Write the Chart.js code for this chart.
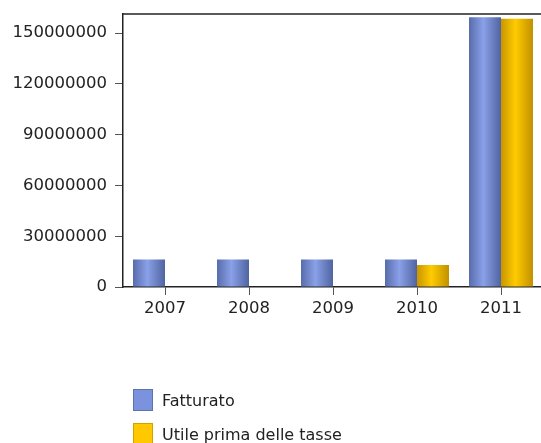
<!DOCTYPE html>
<html>
<head>
<meta charset="utf-8">
<script src="https://cdn.jsdelivr.net/npm/chart.js@4"></script>
<style>
  html, body { margin: 0; padding: 0; background: #fff; overflow: hidden; width: 541px; height: 443px; }
  #wrap { position: relative; width: 600px; height: 443px; }
  #legend { position: absolute; left: 133px; top: 389px; font-family: "DejaVu Sans"; font-size: 16px; color: #222; }
  .item { display: flex; align-items: center; height: 22px; margin-bottom: 12px; }
  .box { width: 18px; height: 20px; margin-right: 9px; box-sizing: content-box; }
</style>
</head>
<body>
<div id="wrap">
  <canvas id="chart" width="600" height="443"></canvas>
  <div id="legend"></div>
</div>
<script>
// dati
const anni = ['2007', '2008', '2009', '2010', '2011'];
const fatturato = [16300000, 16300000, 16300000, 16300000, 159400000];
const utile = [null, null, null, 13000000, 158500000];
const yTicks = [0, 30000000, 60000000, 90000000, 120000000, 150000000];
const yMax = 161300000;

const CAT_PCT = 0.762;
const FONT = { family: 'DejaVu Sans', size: 16.5 };

const palette = [
  { name: 'Fatturato', stops: ['#586cab', '#8aa0e8', '#5064a0'], box: '#7b93dd', edge: '#5d72b5' },
  { name: 'Utile prima delle tasse', stops: ['#c89600', '#ffcb00', '#c09000'], box: '#ffc800', edge: '#d4a000' }
];

function barFill(ctx) {
  const p = palette[ctx.datasetIndex];
  const chart = ctx.chart;
  if (!chart.chartArea || ctx.dataIndex === undefined) return p.box;
  const x = chart.scales.x;
  const w = (x.width / anni.length) * CAT_PCT / 2;
  const left = x.getPixelForValue(ctx.dataIndex) - w + ctx.datasetIndex * w;
  const g = chart.ctx.createLinearGradient(left, 0, left + w, 0);
  g.addColorStop(0, p.stops[0]);
  g.addColorStop(0.45, p.stops[1]);
  g.addColorStop(1, p.stops[2]);
  return g;
}

// bordo superiore del riquadro
const boxPlugin = {
  id: 'plotBox',
  afterDraw(chart) {
    const a = chart.chartArea;
    const c = chart.ctx;
    c.save();
    c.strokeStyle = '#222';
    c.lineWidth = 1.5;
    c.beginPath();
    c.moveTo(a.left, a.top);
    c.lineTo(chart.width, a.top);
    c.stroke();
    c.restore();
  }
};

new Chart(document.getElementById('chart'), {
  type: 'bar',
  data: {
    labels: anni,
    datasets: [
      { label: palette[0].name, data: fatturato, backgroundColor: barFill, borderWidth: 0 },
      { label: palette[1].name, data: utile, backgroundColor: barFill, borderWidth: 0 }
    ]
  },
  options: {
    responsive: false,
    animation: false,
    layout: { padding: { left: 0, top: 14, right: 57, bottom: 116 } },
    datasets: { bar: { categoryPercentage: CAT_PCT, barPercentage: 1 } },
    plugins: { legend: { display: false }, tooltip: { enabled: false } },
    scales: {
      x: {
        afterFit(s) { s.height = 40; s.paddingLeft = 0; s.paddingRight = 0; },
        grid: { offset: false, drawOnChartArea: false, drawTicks: true, tickLength: 8, color: '#555' },
        border: { display: true, color: '#222', width: 1.5 },
        ticks: { font: FONT, color: '#222', padding: 4, maxRotation: 0 }
      },
      y: {
        min: 0,
        max: yMax,
        afterFit(s) { s.width = 123; s.paddingTop = 0; s.paddingBottom = 0; },
        afterBuildTicks(s) { s.ticks = yTicks.map(v => ({ value: v })); },
        grid: { drawOnChartArea: false, drawTicks: true, tickLength: 8, color: '#555' },
        border: { display: true, color: '#222', width: 1.5 },
        ticks: { font: FONT, color: '#222', padding: 8, callback: v => String(v) }
      }
    }
  },
  plugins: [boxPlugin]
});

const legend = document.getElementById('legend');
palette.forEach(p => {
  const item = document.createElement('div');
  item.className = 'item';
  const box = document.createElement('span');
  box.className = 'box';
  box.style.background = p.box;
  box.style.border = '1px solid ' + p.edge;
  const txt = document.createElement('span');
  txt.textContent = p.name;
  item.appendChild(box);
  item.appendChild(txt);
  legend.appendChild(item);
});
</script>
</body>
</html>
